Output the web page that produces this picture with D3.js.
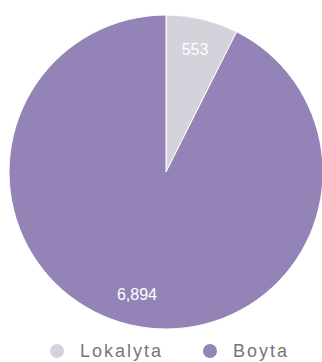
<!DOCTYPE html>
<html>
<head>
<meta charset="utf-8">
<script src="https://cdn.jsdelivr.net/npm/d3@7"></script>
<style>
  body { margin: 0; background: #fff; }
  svg { display: block; }
</style>
</head>
<body>
<svg id="chart" width="322" height="362"></svg>
<script>
const categories = ["Lokalyta", "Boyta"]
const values = [553, 6894]
const colors = ["#d4d3dc", "#9383b7"]

const svg = d3.select("#chart")
const cx = 166, cy = 172, radius = 157

const data = categories.map((c, i) => ({ name: c, value: values[i] }))

const pie = d3.pie().sort(null).value(d => d.value)
const arc = d3.arc().innerRadius(0).outerRadius(radius)
const labelArc = d3.arc().innerRadius(radius * 0.8).outerRadius(radius * 0.8)
const color = d3.scaleOrdinal().domain(categories).range(colors)

const g = svg.append("g").attr("transform", "translate(" + cx + "," + cy + ")")

const arcs = pie(data)

g.selectAll("path")
  .data(arcs)
  .enter().append("path")
  .attr("d", arc)
  .attr("fill", d => color(d.data.name))
  .attr("stroke", "#fff")
  .attr("stroke-width", 1)

// slice labels
g.selectAll("text.val")
  .data(arcs)
  .enter().append("text")
  .attr("class", "val")
  .attr("transform", d => "translate(" + labelArc.centroid(d) + ")")
  .attr("text-anchor", "middle")
  .attr("dy", "0.35em")
  .style("font-family", "Arial, 'Liberation Sans', sans-serif")
  .style("font-size", "16px")
  .style("fill", "#fff")
  .text(d => d3.format(",")(d.data.value))

// legend
const legendX = d3.scalePoint().domain(categories).range([57, 210])
const legend = svg.append("g").attr("transform", "translate(0,351)")

const item = legend.selectAll("g")
  .data(categories)
  .enter().append("g")
  .attr("transform", d => "translate(" + legendX(d) + ",0)")

item.append("circle")
  .attr("r", 7)
  .attr("fill", d => color(d))

item.append("text")
  .attr("x", 23)
  .attr("dy", "0.35em")
  .style("font-family", "Arial, 'Liberation Sans', sans-serif")
  .style("font-size", "18px")
  .style("letter-spacing", "2px")
  .style("fill", "#777")
  .text(d => d)
</script>
</body>
</html>
